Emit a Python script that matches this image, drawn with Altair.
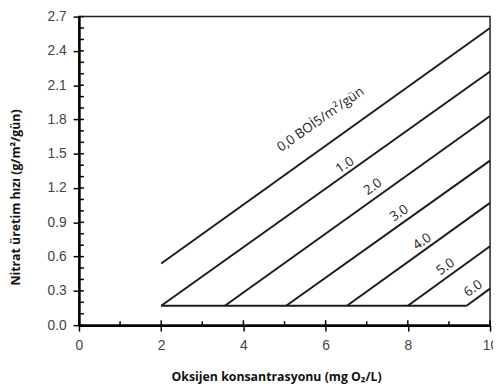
import altair as alt
import pandas as pd

# ---- data ----
series = ["0.0", "1.0", "2.0", "3.0", "4.0", "5.0", "6.0"]
start_x = [2.0, 2.0, 3.55, 5.04, 6.52, 8.0, 9.43]
start_y = [0.54, 0.17, 0.17, 0.17, 0.17, 0.17, 0.17]
end_x = [10.0, 10.0, 10.0, 10.0, 10.0, 10.0, 10.0]
end_y = [2.6, 2.22, 1.83, 1.44, 1.07, 0.69, 0.32]
base_x = [2.0, 9.43]
base_y = [0.17, 0.17]

label_text = ["0,0 BOİ5/m²/gün", "1.0", "2.0", "3.0", "4.0", "5.0", "6.0"]
label_x = [5.88, 6.47, 7.15, 7.79, 8.35, 8.92, 9.59]
label_y = [1.80, 1.40, 1.21, 0.98, 0.73, 0.51, 0.32]

x_major = [0, 2, 4, 6, 8, 10]
x_minor = [1, 3, 5, 7, 9]
y_major = [0.0, 0.3, 0.6, 0.9, 1.2, 1.5, 1.8, 2.1, 2.4, 2.7]
y_minor = [0.1, 0.2, 0.4, 0.5, 0.7, 0.8, 1.0, 1.1, 1.3, 1.4, 1.6, 1.7,
           1.9, 2.0, 2.2, 2.3, 2.5, 2.6]

W, H = 417, 313

rows = []
for i, s in enumerate(series):
    rows.append({"s": s, "x": start_x[i], "y": start_y[i], "o": 0})
    rows.append({"s": s, "x": end_x[i], "y": end_y[i], "o": 1})
for j in range(len(base_x)):
    rows.append({"s": "base", "x": base_x[j], "y": base_y[j], "o": j})
lines_df = pd.DataFrame(rows)
labels_df = pd.DataFrame({"t": label_text, "x": label_x, "y": label_y})

xs = alt.Scale(domain=[0, 10], nice=False, zero=False)
ys = alt.Scale(domain=[0, 2.7], nice=False, zero=False)

x_axis = alt.Axis(
    values=x_major, format="d", title="Oksijen konsantrasyonu (mg O₂/L)",
    titleX=200, titleY=52, titleAlign="center", titleBaseline="middle",
    labelPadding=8, labelFlush=False)
y_axis = alt.Axis(
    values=y_major, format=".1f", title="Nitrat üretim hızı (g/m²/gün)",
    titleX=-64, titleY=183, titleAngle=270, titleAlign="center",
    titleBaseline="middle", labelPadding=7, labelFlush=False)

X = alt.X("x:Q", scale=xs, axis=x_axis)
Y = alt.Y("y:Q", scale=ys, axis=y_axis)

lines = alt.Chart(lines_df).mark_line(color="#1c1c1c", strokeWidth=2).encode(
    x=X, y=Y, detail="s:N", order="o:Q",
)

labels = alt.Chart(labels_df).mark_text(
    angle=325, font="Open Sans", fontSize=13.5, color="#222",
    align="center", baseline="middle"
).encode(x=X, y=Y, text="t:N")

ymaj_in = alt.Chart(pd.DataFrame({"y": y_major})).mark_rule(color="black", strokeWidth=1.5).encode(
    y=Y, x=alt.value(0), x2=alt.value(5))
ymin_in = alt.Chart(pd.DataFrame({"y": y_minor})).mark_rule(color="black", strokeWidth=1.5).encode(
    y=Y, x=alt.value(0), x2=alt.value(5))
xmaj_in = alt.Chart(pd.DataFrame({"x": x_major})).mark_rule(color="black", strokeWidth=1.5).encode(
    x=X, y=alt.value(H), y2=alt.value(H - 5))
xmin_in = alt.Chart(pd.DataFrame({"x": x_minor})).mark_rule(color="black", strokeWidth=1.5).encode(
    x=X, y=alt.value(H), y2=alt.value(H - 4))

chart = alt.layer(lines, labels, ymaj_in, ymin_in, xmaj_in, xmin_in).properties(
    width=W, height=H,
    autosize=alt.AutoSizeParams(type="none"),
    padding={"left": 72, "top": 6, "right": 3, "bottom": 60},
).configure_view(
    stroke="#222", strokeWidth=1.5
).configure_axis(
    grid=False, domainColor="black", domainWidth=2.5,
    tickColor="black", tickWidth=1.5, tickSize=6,
    labelFont="Liberation Sans", labelFontSize=14, labelColor="#444",
    titleFont="Open Sans", titleFontWeight="bold", titleFontSize=12.5, titleColor="#111",
)

chart.save("out.html", embed_options={"renderer": "svg", "actions": False})
